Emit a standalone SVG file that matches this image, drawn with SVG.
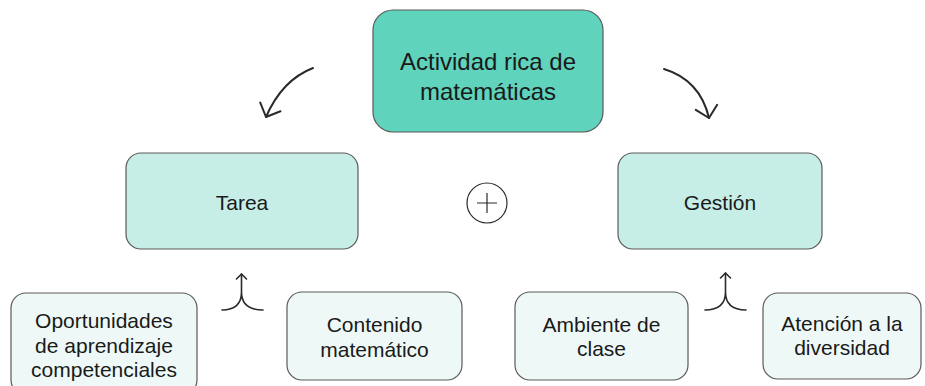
<svg xmlns="http://www.w3.org/2000/svg" width="925" height="386" viewBox="0 0 925 386">
<style>
.box{stroke:#5a5a5a;stroke-width:1.2}
.top{fill:#5fd3bc}
.mid{fill:#c6ede6}
.low{fill:#eef9f7}
text{font-family:"Liberation Sans",Arial,sans-serif;fill:#1a1a1a;text-anchor:middle}
.t1{font-size:24px}
.t2{font-size:21px}
.conn{fill:none;stroke:#2a2a2a;stroke-linecap:round;stroke-linejoin:round}
</style>
<defs>
<marker id="big" markerUnits="userSpaceOnUse" markerWidth="30" markerHeight="30" refX="0" refY="0" viewBox="-15 -15 30 30" orient="auto" overflow="visible">
<path d="M-11,-11 L0,0 L-11,11" fill="none" stroke="#2a2a2a" stroke-width="2" stroke-linecap="round" stroke-linejoin="round"/>
</marker>
<marker id="small" markerUnits="userSpaceOnUse" markerWidth="16" markerHeight="16" refX="0" refY="0" viewBox="-8 -8 16 16" orient="auto" overflow="visible">
<path d="M-5,-5 L0,0 L-5,5" fill="none" stroke="#2a2a2a" stroke-width="1.6" stroke-linecap="round" stroke-linejoin="round"/>
</marker>
</defs>
<rect width="925" height="386" fill="#ffffff"/>
<g id="connectors">
<path class="conn" stroke-width="2" d="M313,68 Q282,80 266,117" marker-end="url(#big)"/>
<path class="conn" stroke-width="2" d="M664,69 Q700,80 709,118" marker-end="url(#big)"/>
<path class="conn" stroke-width="1.6" d="M222,310 Q241.5,310 241.5,292 Q241.5,310 263,310 M241.5,292 V274" marker-end="url(#small)"/>
<path class="conn" stroke-width="1.6" d="M705,310 Q725.5,310 725.5,292 Q725.5,310 746,310 M725.5,292 V273" marker-end="url(#small)"/>
<g id="plus">
<circle cx="487" cy="203" r="20" fill="#ffffff" stroke="#2a2a2a" stroke-width="1.2"/>
<path d="M477,203 H497 M487,193 V213" stroke="#2a2a2a" stroke-width="1.2"/>
</g>
</g>
<g id="actividad">
<rect class="box top" x="373" y="10" width="230" height="122" rx="20"/>
<text class="t1" x="488" y="70">Actividad rica de</text>
<text class="t1" x="488" y="100">matemáticas</text>
</g>
<g id="tarea">
<rect class="box mid" x="126" y="153" width="232" height="96" rx="15"/>
<text class="t2" x="242" y="210">Tarea</text>
</g>
<g id="gestion">
<rect class="box mid" x="618" y="153" width="204" height="96" rx="15"/>
<text class="t2" x="720" y="210">Gestión</text>
</g>
<g id="oportunidades">
<rect class="box low" x="11" y="293" width="186" height="102" rx="15"/>
<text class="t2" x="104" y="328">Oportunidades</text>
<text class="t2" x="104" y="353">de aprendizaje</text>
<text class="t2" x="104" y="377">competenciales</text>
</g>
<g id="contenido">
<rect class="box low" x="287" y="292" width="175" height="88" rx="15"/>
<text class="t2" x="374.5" y="332">Contenido</text>
<text class="t2" x="374.5" y="357">matemático</text>
</g>
<g id="ambiente">
<rect class="box low" x="515" y="292" width="173" height="88" rx="15"/>
<text class="t2" x="601.5" y="332">Ambiente de</text>
<text class="t2" x="601.5" y="356">clase</text>
</g>
<g id="atencion">
<rect class="box low" x="763" y="293" width="158" height="86" rx="15"/>
<text class="t2" x="842" y="331">Atención a la</text>
<text class="t2" x="842" y="355">diversidad</text>
</g>
</svg>
